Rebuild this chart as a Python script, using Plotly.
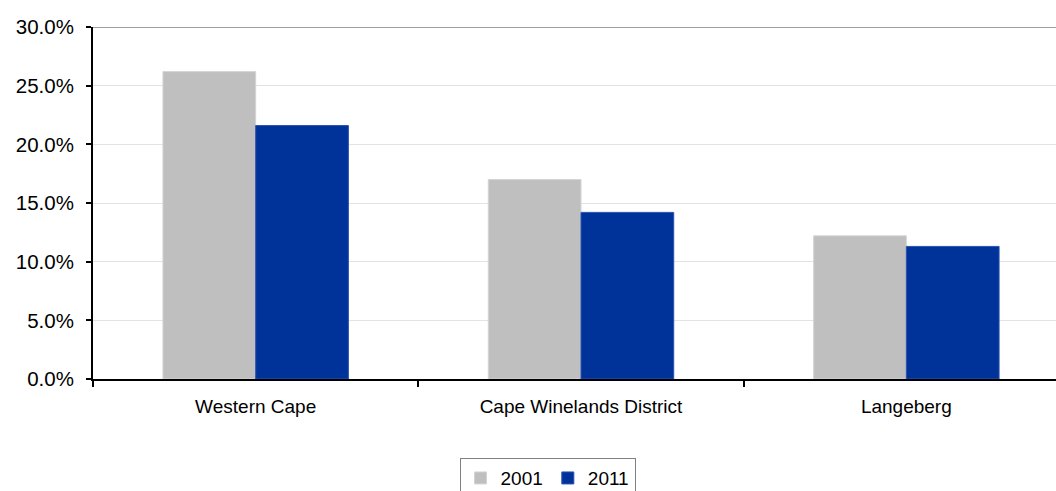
import plotly.graph_objects as go

regions = ["Western Cape", "Cape Winelands District", "Langeberg"]
share_2001 = [0.262, 0.170, 0.122]
share_2011 = [0.216, 0.142, 0.113]

fig = go.Figure()
fig.add_trace(go.Bar(x=regions, y=share_2001, name="2001",
                     marker=dict(color="#BFBFBF", line=dict(color="#D4D4D4", width=1))))
fig.add_trace(go.Bar(x=regions, y=share_2011, name="2011",
                     marker=dict(color="#003399", line=dict(color="#2A52B0", width=1))))

# darker line along the top of the plot area
fig.add_shape(type="line", xref="paper", yref="y", x0=0, x1=1, y0=0.3, y1=0.3,
              line=dict(color="#808080", width=1.5))

family = "Liberation Sans, Arial, sans-serif"
xfont = dict(family=family, size=19, color="black")
yfont = dict(family=family, size=20.5, color="black")

fig.update_layout(
    width=1056, height=491,
    margin=dict(l=93, r=0, t=27, b=112, autoexpand=False),
    plot_bgcolor="white", paper_bgcolor="white",
    font=xfont,
    barmode="group", bargap=0.43, bargroupgap=0,
    showlegend=True,
    legend=dict(orientation="h", x=0.472, xanchor="center",
                yref="container", y=0.067, yanchor="top",
                bordercolor="#808080", borderwidth=1, font=xfont,
                itemwidth=30, traceorder="normal"),
    xaxis=dict(range=[-0.5, 2.46], showline=True, linecolor="black", linewidth=2,
               ticks="outside", tickson="boundaries", ticklen=6, tickcolor="black",
               tickwidth=1.5, showgrid=False, tickfont=xfont, ticklabelstandoff=9,
               automargin=False),
    yaxis=dict(range=[0, 0.3], dtick=0.05, tickformat=".1%", showline=True,
               linecolor="black", linewidth=2, ticks="outside", ticklen=5,
               tickcolor="black", tickwidth=1.5, gridcolor="#E3E3E3", gridwidth=1,
               zeroline=False, tickfont=yfont, ticklabelstandoff=8, automargin=False),
)

# drop the default body margin so the figure sits flush with the window
fig.write_html("out.html", config={"displayModeBar": False},
               post_script="document.body.style.margin='0';")
